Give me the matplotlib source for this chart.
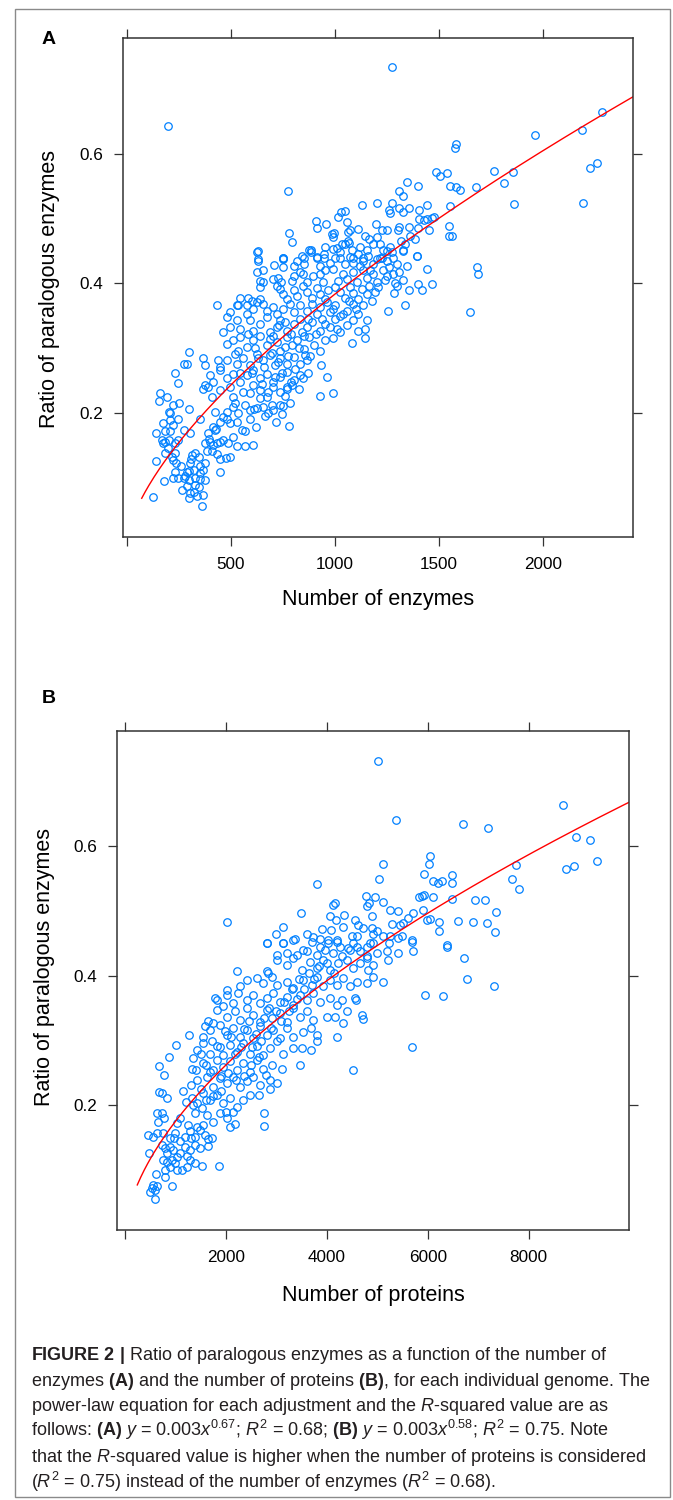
import numpy as np
import matplotlib
matplotlib.use("Agg")
import matplotlib.pyplot as plt
from matplotlib.patches import Rectangle

plt.rcParams['font.family'] = ['Liberation Sans', 'DejaVu Sans']
plt.rcParams['mathtext.fontset'] = 'custom'
plt.rcParams['mathtext.rm'] = 'Liberation Sans'
plt.rcParams['mathtext.it'] = 'Liberation Sans:italic'
plt.rcParams['mathtext.bf'] = 'Liberation Sans:bold'

# ---------------- data ----------------
# panel A : number of enzymes vs ratio of paralogous enzymes
enzymes_a = [
    1274, 200, 2286, 2190, 1964, 1584, 1579, 2263, 2225, 2196,
    1863, 1856, 1816, 1768, 1680, 1552, 1488, 1504, 1539, 1552,
    1584, 1600, 1347, 1401, 1308, 1327, 774, 1443, 1550, 1549,
    1563, 1452, 1404, 1404, 1359, 1276, 1263, 1266, 1311, 1327,
    1132, 1205, 1427, 1443, 1467, 1478, 1359, 1401, 910, 914,
    959, 1018, 1031, 1050, 1058, 782, 795, 630, 633, 986,
    997, 994, 1063, 1074, 1111, 1063, 1068, 1047, 1145, 1167,
    1197, 1202, 1228, 1250, 1311, 1303, 1318, 1337, 1330, 1362,
    1388, 1395, 955, 994, 1010, 1037, 1082, 1122, 1154, 1186,
    1218, 1234, 1266, 1250, 1282, 850, 874, 885, 914, 949,
    1026, 1090, 1138, 1202, 1226, 749, 753,
    625, 633, 709, 750, 753, 805, 818, 842, 850, 885, 914, 930, 949, 978, 1002,
    1026, 1050, 1074, 1090, 1114, 1138, 1162, 1186, 1218, 1250, 1274, 1298, 1327, 1347, 1395,
    625, 654, 641, 657, 705, 725, 741, 802, 793, 834, 846, 894, 866, 930, 954, 943, 994, 1018,
    1042, 1058, 1090, 1106, 1138, 1157, 1186, 1202, 1234, 1250, 1279, 1290, 1330, 1443, 1467, 1398, 1686, 1691,
    641, 721, 737, 753, 769, 802, 818, 846, 866, 890, 914, 930, 954, 970, 1002, 1026, 1050,
    1074, 1090, 1114, 1130, 1154, 1167, 1194, 1355, 1419, 1287, 1298, 585, 601, 641, 545, 537, 577,
    436, 481, 497, 532, 577, 609, 625, 657, 673, 705, 721, 753, 785, 802, 834,
    866, 890, 914, 930, 962, 978, 1002, 1026, 1058, 1090, 1114, 1138, 1338, 1258, 1648,
    465, 497, 529, 545, 593, 609, 641, 673, 689, 721, 737, 769, 802, 834,
    842, 866, 890, 930, 954, 978, 1002, 1026, 1058, 1090, 1114, 1146, 1154,
    481, 513, 545, 577, 609, 641, 673, 689, 721, 737, 769,
    793, 818, 850, 874, 898, 930, 954, 994, 1082, 1146, 537,
    297, 273, 289, 232, 369, 377, 441, 449, 481, 521, 529, 561,
    593, 625, 657, 689, 713, 737, 769, 802, 834, 866, 882, 935,
    248, 401, 377, 417, 449, 481, 513, 545, 577, 609, 641, 673, 705, 737, 769, 802, 834, 846, 965,
    160, 157, 192, 369, 393, 409, 449, 497, 513, 593, 609, 641, 673, 705, 737, 769, 793, 826, 930, 994,
    205, 224, 208, 425, 465, 481, 513, 537, 569, 593, 625, 657, 681, 705, 737, 753,
    176, 208, 248, 141, 184, 208, 224, 273, 305, 393, 417, 425, 449, 481, 497, 529, 553, 569, 593, 622, 779,
    168, 184, 205, 232, 248, 176, 377, 401, 417, 433, 449, 465, 489, 513, 529, 569, 609,
    141, 216, 232, 224, 237, 313, 329, 345, 385, 377, 433, 478, 497, 305, 353,
    232, 289, 321, 353, 369, 377, 449, 224, 248, 273, 297, 329, 353, 180,
    128, 265, 289, 305, 297, 321, 337, 369, 364,
    # dense core
    585, 617, 633, 661, 697, 705, 729, 745, 761, 777,
    789, 810, 826, 858, 870, 650, 680, 715, 760, 785,
    700, 665, 720, 745, 770, 640, 610, 600, 560, 520,
    545, 730, 790, 760, 850, 870, 910, 940, 990, 1010,
    1040, 1070, 1100, 1180, 1210, 1240, 1260, 1310, 1170, 1120,
    300, 330, 260, 345, 280, 310, 200, 185, 410, 450,
    395, 430, 350, 300, 250,
]
ratio_a = [
    0.734, 0.643, 0.665, 0.637, 0.630, 0.616, 0.610, 0.586, 0.578, 0.524,
    0.523, 0.573, 0.556, 0.574, 0.549, 0.519, 0.572, 0.566, 0.570, 0.550,
    0.549, 0.544, 0.557, 0.550, 0.543, 0.535, 0.543, 0.522, 0.489, 0.473,
    0.474, 0.482, 0.513, 0.500, 0.517, 0.524, 0.514, 0.509, 0.517, 0.510,
    0.522, 0.525, 0.498, 0.499, 0.501, 0.502, 0.487, 0.486, 0.497, 0.486,
    0.492, 0.503, 0.510, 0.512, 0.495, 0.478, 0.464, 0.450, 0.438, 0.476,
    0.478, 0.472, 0.480, 0.483, 0.484, 0.466, 0.463, 0.461, 0.474, 0.468,
    0.492, 0.472, 0.483, 0.483, 0.487, 0.482, 0.466, 0.461, 0.451, 0.473,
    0.469, 0.443, 0.456, 0.453, 0.455, 0.461, 0.451, 0.456, 0.451, 0.461,
    0.461, 0.451, 0.457, 0.450, 0.440, 0.440, 0.451, 0.452, 0.441, 0.439,
    0.440, 0.440, 0.440, 0.438, 0.439, 0.439, 0.437,
    0.448, 0.435, 0.429, 0.439, 0.426, 0.427, 0.435, 0.443, 0.430, 0.448, 0.440, 0.427, 0.445, 0.432, 0.440,
    0.448, 0.430, 0.441, 0.432, 0.445, 0.435, 0.443, 0.430, 0.440, 0.435, 0.448, 0.430, 0.450, 0.427, 0.443,
    0.418, 0.420, 0.404, 0.402, 0.407, 0.408, 0.402, 0.412, 0.404, 0.417, 0.414, 0.412, 0.402, 0.414, 0.420, 0.402, 0.422, 0.404,
    0.414, 0.407, 0.417, 0.402, 0.420, 0.409, 0.414, 0.402, 0.420, 0.412, 0.414, 0.400, 0.405, 0.422, 0.399, 0.399, 0.426, 0.414,
    0.395, 0.396, 0.391, 0.384, 0.376, 0.389, 0.381, 0.396, 0.386, 0.378, 0.393, 0.384, 0.376, 0.389, 0.394, 0.386, 0.378,
    0.395, 0.385, 0.376, 0.391, 0.384, 0.396, 0.386, 0.389, 0.390, 0.385, 0.396, 0.378, 0.373, 0.376, 0.378, 0.366, 0.366,
    0.366, 0.348, 0.355, 0.366, 0.353, 0.361, 0.371, 0.368, 0.358, 0.363, 0.353, 0.361, 0.368, 0.355, 0.366,
    0.358, 0.368, 0.353, 0.363, 0.371, 0.355, 0.366, 0.350, 0.358, 0.368, 0.353, 0.366, 0.366, 0.358, 0.356,
    0.325, 0.332, 0.343, 0.330, 0.343, 0.327, 0.337, 0.348, 0.325, 0.332, 0.343, 0.327, 0.337, 0.345,
    0.325, 0.332, 0.340, 0.327, 0.337, 0.332, 0.345, 0.325, 0.335, 0.343, 0.327, 0.330, 0.343,
    0.307, 0.312, 0.317, 0.302, 0.312, 0.319, 0.304, 0.314, 0.309, 0.296, 0.317,
    0.304, 0.312, 0.299, 0.317, 0.304, 0.296, 0.312, 0.316, 0.308, 0.316, 0.296,
    0.294, 0.276, 0.276, 0.261, 0.285, 0.273, 0.281, 0.271, 0.281, 0.291, 0.276, 0.284,
    0.273, 0.291, 0.281, 0.289, 0.273, 0.284, 0.276, 0.286, 0.276, 0.281, 0.287, 0.274,
    0.246, 0.258, 0.243, 0.248, 0.266, 0.253, 0.260, 0.248, 0.258, 0.266, 0.253, 0.260, 0.248, 0.255, 0.263, 0.250, 0.258, 0.253, 0.255,
    0.230, 0.218, 0.225, 0.236, 0.240, 0.225, 0.235, 0.240, 0.225, 0.230, 0.243, 0.235, 0.225, 0.240, 0.232, 0.237, 0.243, 0.237, 0.226, 0.231,
    0.201, 0.212, 0.199, 0.201, 0.194, 0.201, 0.209, 0.199, 0.212, 0.204, 0.207, 0.209, 0.199, 0.204, 0.212, 0.210,
    0.184, 0.189, 0.190, 0.169, 0.171, 0.171, 0.181, 0.173, 0.168, 0.168, 0.178, 0.173, 0.186, 0.191, 0.184, 0.185, 0.173, 0.171, 0.191, 0.178, 0.179,
    0.158, 0.155, 0.158, 0.153, 0.158, 0.153, 0.153, 0.155, 0.150, 0.153, 0.155, 0.158, 0.153, 0.163, 0.148, 0.148, 0.150,
    0.126, 0.132, 0.137, 0.127, 0.122, 0.135, 0.137, 0.132, 0.140, 0.122, 0.136, 0.130, 0.131, 0.122, 0.118,
    0.109, 0.109, 0.112, 0.107, 0.112, 0.096, 0.108, 0.099, 0.099, 0.099, 0.096, 0.099, 0.097, 0.095,
    0.070, 0.080, 0.086, 0.076, 0.068, 0.078, 0.071, 0.072, 0.056,
    # dense core
    0.322, 0.300, 0.285, 0.270, 0.292, 0.318, 0.279, 0.262, 0.302, 0.287,
    0.248, 0.268, 0.300, 0.290, 0.262, 0.245, 0.232, 0.255, 0.226, 0.215,
    0.212, 0.195, 0.185, 0.198, 0.240, 0.222, 0.205, 0.262, 0.232, 0.215,
    0.262, 0.335, 0.322, 0.340, 0.318, 0.345, 0.322, 0.345, 0.360, 0.330,
    0.352, 0.372, 0.360, 0.372, 0.395, 0.405, 0.425, 0.418, 0.420, 0.427,
    0.110, 0.088, 0.118, 0.085, 0.102, 0.128, 0.145, 0.138, 0.140, 0.128,
    0.160, 0.175, 0.190, 0.205, 0.215,
]

# panel B : number of proteins vs ratio of paralogous enzymes
proteins_b = [
    5007, 5371, 6705, 7187, 8687, 8931, 9216, 9361, 8740, 8898,
    7749, 7669, 7815, 6044, 6025, 5932, 6110, 6210, 6276, 6474,
    6474, 5106, 5027, 3798, 2015, 3481, 4776, 4955, 4842, 4802,
    5120, 5252, 5417, 4162, 4129, 5826, 5879, 5926, 6097, 6474,
    5912, 5714, 5978, 6044, 6223, 6223, 6936, 7135, 7346, 6606,
    6903, 7181, 7326, 6375, 4889, 4347, 4063, 4182, 4565, 4611,
    4723, 3911, 4076, 4314, 4505, 4591, 4895, 4921, 5120, 5252,
    5417, 5483, 5516, 5450, 5681, 3600, 3719, 3138, 2993, 3138,
    2808, 3369, 3865, 4030, 4195, 4855, 5238,
    2808, 3138, 3336, 3521, 3699, 3865, 4030, 4195, 3006, 3204, 3402, 3600, 3798, 3964, 4129, 4261, 4426, 4525,
    4657, 4789, 4921, 4987, 5186, 5219, 5417, 5714, 5681, 6375, 6718, 6771, 7313, 5945, 6296, 5688, 4525,
    2808, 2841, 3006, 3204, 3336, 3501, 3666, 3798, 3931, 4063, 4228, 4393, 4525, 4657, 4822, 4921, 4789, 2213, 2609,
    2411, 2741, 2907, 3006, 3204, 3336, 3534, 3699, 3798, 3931, 4063, 4195, 4327, 4459, 4591, 4789, 4921, 5120, 2279, 2015,
    1784, 1817, 2015, 2147, 2246, 2411, 2543, 2675, 2808, 2940, 3072, 3204, 3336, 3468, 3600, 3732, 3865, 4063, 4195, 4294, 4558, 4578,
    1817, 1949, 2015, 2180, 2279, 2411, 2543, 2675, 2808, 2907, 3072, 3204, 3336, 3468, 3600, 3732, 3997, 4162, 4327, 4393, 4690, 4723, 1585, 1737,
    1275, 1552, 1685, 1883, 2015, 2147, 2279, 2411, 2543, 2675, 2808, 2940, 3072, 3204, 3336, 3534, 3680, 3798, 4195, 3798,
    1011, 879, 1420, 1552, 1685, 1817, 1949, 2081, 2213, 2345, 2477, 2609, 2741, 2874, 3006, 3138, 3336, 3501, 3680,
    680, 773, 1354, 1321, 1552, 1685, 1817, 1949, 2081, 2213, 2345, 2477, 2609, 2741, 2907, 3105, 3468, 2790,
    1420, 1619, 1751, 1883, 2015, 2147, 2279, 2411, 2543, 2675, 2874, 3006, 2874, 2662,
    680, 727, 826, 1321, 1420, 1552, 1685, 1817, 1949, 2081, 2213, 2345, 2477,
    628, 773, 727, 661, 1024, 1387, 1519, 1619, 1751, 1883, 2015, 2147, 2081, 2180, 2755, 2755,
    462, 548, 628, 760, 971, 1189, 1288, 1387, 1486, 1585, 1651, 1718, 1420, 1552,
    727, 793, 892, 958, 839, 1090, 1189, 1288, 1387, 1486, 1651, 482, 1024, 1222,
    760, 826, 925, 991, 892, 793, 1024, 1123, 1222, 1288, 1387, 1519, 1870, 614,
    793, 925, 561, 628, 528, 495, 594, 594,
    # dense core
    1650, 1720, 1880, 1990, 2100, 2180, 2300, 2350, 2450, 2520,
    2600, 2700, 2760, 2850, 2900, 3000, 3100, 3150, 3250, 3300,
    3400, 3450, 3550, 3650, 3750, 1500, 1600, 1750, 1900, 2050,
    2200, 2350, 2500, 2650, 1400, 1300, 1500, 1600, 1750, 1900,
    2000, 1200, 1100, 1250, 1350, 1150, 1000, 900, 1100, 1300,
    3850, 4000, 4150, 4300, 4450, 4600, 4800, 5000, 5300, 5600,
]
ratio_b = [
    0.732, 0.641, 0.635, 0.629, 0.663, 0.614, 0.609, 0.577, 0.565, 0.569,
    0.571, 0.549, 0.534, 0.585, 0.573, 0.557, 0.547, 0.543, 0.547, 0.556,
    0.544, 0.572, 0.550, 0.542, 0.483, 0.497, 0.524, 0.522, 0.512, 0.508,
    0.514, 0.502, 0.500, 0.512, 0.510, 0.522, 0.524, 0.525, 0.521, 0.519,
    0.502, 0.497, 0.487, 0.488, 0.483, 0.470, 0.517, 0.517, 0.499, 0.485,
    0.483, 0.482, 0.468, 0.447, 0.492, 0.494, 0.492, 0.487, 0.487, 0.479,
    0.474, 0.472, 0.471, 0.475, 0.462, 0.461, 0.474, 0.464, 0.461, 0.462,
    0.458, 0.461, 0.482, 0.479, 0.456, 0.464, 0.460, 0.475, 0.464, 0.451,
    0.451, 0.457, 0.457, 0.456, 0.453, 0.451, 0.451,
    0.450, 0.450, 0.456, 0.440, 0.453, 0.445, 0.450, 0.456, 0.432, 0.435, 0.432, 0.438, 0.432, 0.440, 0.435, 0.445, 0.443, 0.450,
    0.438, 0.445, 0.450, 0.435, 0.438, 0.424, 0.435, 0.438, 0.453, 0.445, 0.427, 0.395, 0.384, 0.371, 0.369, 0.290, 0.255,
    0.407, 0.404, 0.425, 0.417, 0.427, 0.409, 0.422, 0.412, 0.425, 0.409, 0.420, 0.425, 0.412, 0.420, 0.409, 0.417, 0.427, 0.407, 0.396,
    0.394, 0.389, 0.399, 0.386, 0.391, 0.381, 0.394, 0.386, 0.399, 0.384, 0.394, 0.386, 0.396, 0.384, 0.391, 0.389, 0.399, 0.390, 0.384, 0.378,
    0.366, 0.363, 0.371, 0.358, 0.373, 0.363, 0.371, 0.358, 0.366, 0.373, 0.360, 0.368, 0.355, 0.371, 0.363, 0.373, 0.360, 0.366, 0.355, 0.363, 0.366, 0.363,
    0.347, 0.353, 0.337, 0.345, 0.332, 0.350, 0.340, 0.329, 0.347, 0.335, 0.342, 0.329, 0.350, 0.337, 0.345, 0.332, 0.337, 0.337, 0.328, 0.345, 0.340, 0.333, 0.322, 0.327,
    0.309, 0.306, 0.317, 0.324, 0.309, 0.319, 0.306, 0.317, 0.304, 0.322, 0.309, 0.317, 0.304, 0.319, 0.306, 0.314, 0.319, 0.299, 0.305, 0.309,
    0.293, 0.275, 0.286, 0.296, 0.280, 0.291, 0.278, 0.293, 0.283, 0.296, 0.280, 0.291, 0.278, 0.288, 0.299, 0.280, 0.288, 0.288, 0.286,
    0.261, 0.247, 0.273, 0.257, 0.265, 0.252, 0.270, 0.260, 0.268, 0.255, 0.265, 0.252, 0.270, 0.257, 0.263, 0.257, 0.263, 0.247,
    0.239, 0.244, 0.229, 0.242, 0.234, 0.244, 0.229, 0.237, 0.244, 0.232, 0.239, 0.234, 0.225, 0.216,
    0.221, 0.219, 0.211, 0.212, 0.203, 0.219, 0.208, 0.216, 0.203, 0.211, 0.198, 0.208, 0.216,
    0.189, 0.180, 0.188, 0.175, 0.173, 0.188, 0.196, 0.185, 0.175, 0.188, 0.180, 0.190, 0.167, 0.172, 0.189, 0.169,
    0.155, 0.152, 0.157, 0.158, 0.149, 0.152, 0.160, 0.152, 0.162, 0.154, 0.148, 0.150, 0.167, 0.170,
    0.139, 0.134, 0.136, 0.131, 0.126, 0.127, 0.136, 0.131, 0.139, 0.134, 0.137, 0.126, 0.121, 0.122,
    0.116, 0.113, 0.116, 0.111, 0.105, 0.100, 0.100, 0.101, 0.105, 0.116, 0.111, 0.107, 0.107, 0.094,
    0.090, 0.075, 0.077, 0.075, 0.072, 0.067, 0.069, 0.055,
    # dense core
    0.330, 0.300, 0.290, 0.315, 0.305, 0.280, 0.290, 0.318, 0.330, 0.290,
    0.310, 0.300, 0.335, 0.350, 0.320, 0.345, 0.330, 0.360, 0.345, 0.380,
    0.365, 0.395, 0.380, 0.405, 0.395, 0.280, 0.262, 0.255, 0.245, 0.250,
    0.240, 0.245, 0.262, 0.275, 0.255, 0.232, 0.225, 0.208, 0.215, 0.222,
    0.190, 0.205, 0.180, 0.170, 0.200, 0.222, 0.158, 0.150, 0.145, 0.150,
    0.415, 0.420, 0.405, 0.430, 0.440, 0.445, 0.430, 0.470, 0.480, 0.490,
]

# power-law fit lines (y = a * x^b), as drawn
fit_a = (0.00404, 0.659)
fit_b = (0.00317, 0.581)

xticks_a = [0, 500, 1000, 1500, 2000]
xticks_b = [0, 2000, 4000, 6000, 8000]
yticks = [0.2, 0.4, 0.6]

caption = [
    r"$\mathbf{FIGURE\ 2\ |}$ Ratio of paralogous enzymes as a function of the number of",
    r"enzymes $\mathbf{(A)}$ and the number of proteins $\mathbf{(B)}$, for each individual genome. The",
    r"power-law equation for each adjustment and the $\mathit{R}$-squared value are as",
    r"follows: $\mathbf{(A)}$ $\mathit{y}$ = 0.003$\mathit{x}^{0.67}$; $\mathit{R}^{2}$ = 0.68; "
    r"$\mathbf{(B)}$ $\mathit{y}$ = 0.003$\mathit{x}^{0.58}$; $\mathit{R}^{2}$ = 0.75. Note",
    r"that the $\mathit{R}$-squared value is higher when the number of proteins is considered",
    r"($\mathit{R}^{2}$ = 0.75) instead of the number of enzymes ($\mathit{R}^{2}$ = 0.68).",
]

assert len(enzymes_a) == len(ratio_a)
assert len(proteins_b) == len(ratio_b)

# ---------------- figure ----------------
W, H = 673, 1500
fig = plt.figure(figsize=(W / 100, H / 100), dpi=100)
BLUE = '#0080ff'
DARK = '#333333'


def fx(px):
    return px / W


def fy(py):
    return 1 - py / H


def panel(box, x, y, xlim, ylim, xticks, fit, xr):
    l, t, r, b = box
    ax = fig.add_axes([fx(l), fy(b), (r - l) / W, (b - t) / H])
    ax.plot(x, y, ls='none', marker='o', mfc='none', mec=BLUE, ms=5.4, mew=0.9)
    xs = np.linspace(xr[0], xr[1], 300)
    ax.plot(xs, fit[0] * xs ** fit[1], color='red', lw=1.0)
    ax.set_xlim(*xlim)
    ax.set_ylim(*ylim)
    ax.set_xticks(xticks)
    ax.set_xticklabels([''] + [str(v) for v in xticks[1:]])
    ax.set_yticks(yticks)
    ax.set_yticklabels([str(v) for v in yticks])
    ax.tick_params(direction='out', length=6.5, width=0.9, color=DARK,
                   top=True, right=True, labelsize=12.3, pad=8)
    for s in ax.spines.values():
        s.set_color(DARK)
        s.set_linewidth(1.1)
    return ax


panel((123, 37.7, 633, 536.7), enzymes_a, ratio_a, (-18, 2434), (0.0082, 0.780),
      xticks_a, fit_a, (72, 2600))
panel((117, 731, 629.3, 1230), proteins_b, ratio_b, (-158, 9994), (0.0077, 0.778),
      xticks_b, fit_b, (244, 10500))

# axis titles and panel letters
fig.text(fx(50), fy(289.5), 'Ratio of paralogous enzymes', rotation=90,
         ha='center', va='center', fontsize=15.5)
fig.text(fx(378), fy(600), 'Number of enzymes', ha='center', va='center', fontsize=15.5)
fig.text(fx(45), fy(967.5), 'Ratio of paralogous enzymes', rotation=90,
         ha='center', va='center', fontsize=15.5)
fig.text(fx(373), fy(1295), 'Number of proteins', ha='center', va='center', fontsize=15.5)
fig.text(fx(41.5), fy(39), 'A', ha='left', va='center', fontsize=14, fontweight='bold')
fig.text(fx(41.5), fy(698.5), 'B', ha='left', va='center', fontsize=14, fontweight='bold')

# caption
for i, line in enumerate(caption):
    fig.text(fx(31), fy(1360 + 25.5 * i), line, ha='left', va='baseline',
             fontsize=13, color='#231f20')

# outer frame
fig.patches.append(Rectangle((fx(15), fy(1497)), (670 - 15) / W, (1497 - 9) / H,
                             transform=fig.transFigure, fill=False,
                             ec='#8a8a8a', lw=1.0))

fig.savefig('out.png', dpi=100)
